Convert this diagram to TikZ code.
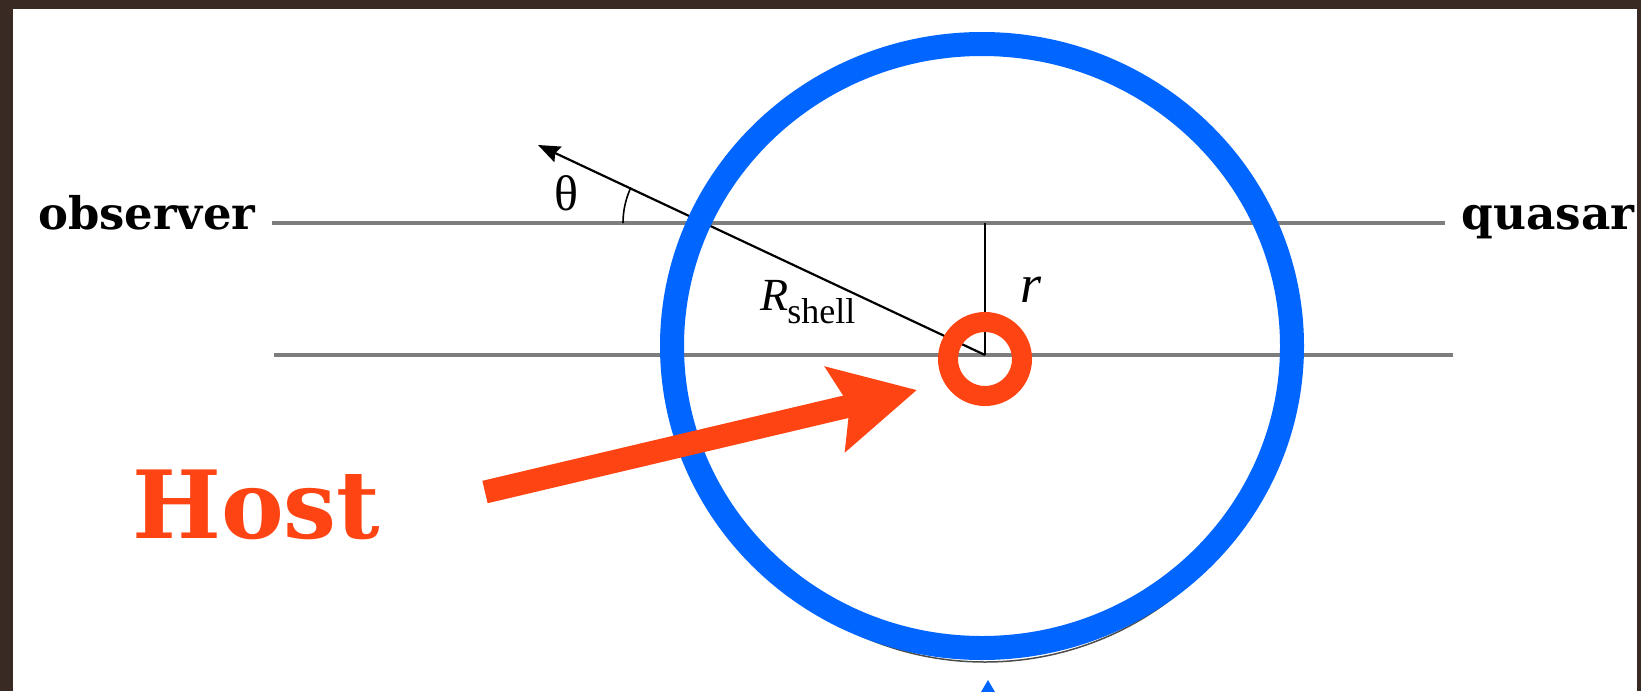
\documentclass[tikz,border=0pt]{standalone}
\usepackage{fontspec}
\usepackage{graphicx}
\usetikzlibrary{arrows.meta}
\newfontfamily\labfont{DejaVu Serif}
\newfontfamily\tnr{Liberation Serif}
\definecolor{frame}{RGB}{58,42,36}
\definecolor{shellblue}{RGB}{0,102,255}
\definecolor{hostred}{RGB}{255,68,20}
\definecolor{sightgray}{RGB}{125,125,125}
\tikzset{
  sight/.style={draw=sightgray, line width=3.5pt},
  thinblack/.style={draw=black, line width=2.2pt},
  sidelabel/.style={inner sep=0pt, font=\labfont\bfseries},
  mathlab/.style={inner sep=0pt},
}
\begin{document}
\begin{tikzpicture}[x=1pt,y=-1pt]
\fill[frame] (0,0) rectangle (1641,691);
\fill[white] (13,9) rectangle (1637,691);
\useasboundingbox (0,0) rectangle (1641,691);

\coordinate (obsL) at (272,223);
\coordinate (obsR) at (1445,223);
\coordinate (lowL) at (274,355);
\coordinate (lowR) at (1453,355);
\coordinate (C) at (985,355);
\coordinate (top) at (985,223);
\coordinate (dir) at (538,145);
\coordinate (X) at (707,223);
\coordinate (hosttail) at (485,492);
\coordinate (hosttip) at (917,390);

\draw[sight] (obsL) -- (obsR);
\draw[sight] (lowL) -- (lowR);
\draw[gray!60!black, line width=1.5pt] (C) circle[radius=307pt];
\draw[thinblack] (top) -- (C);
\draw[thinblack, -{Stealth[length=22pt,width=17pt,inset=3pt]}] (C) -- (dir);
\draw[black, line width=1.6pt] ([xshift=-84pt]X) arc[start angle=180, end angle=155.2, radius=84pt];

% hand-drawn rings
\draw[shellblue, line width=24pt] (982,346) ellipse[x radius=310pt, y radius=302pt];
\draw[hostred, line width=20pt] (985,359) circle[radius=37pt];
\draw[hostred, line width=23pt, -{Stealth[length=83pt,width=85pt,inset=14pt]}] (hosttail) -- (hosttip);
\fill[shellblue] (988,680) -- (981,692) -- (995,692) -- cycle;

% labels
\node[sidelabel, anchor=base west] (observer) at (38,229) {\resizebox{217pt}{!}{observer}};
\node[sidelabel, anchor=base east] (quasar) at (1635,229) {\resizebox{173pt}{!}{quasar}};
\node[sidelabel, anchor=base west, text=hostred] (host) at (132,538) {\resizebox{248pt}{!}{Host}};
\node[mathlab, font=\tnr\fontsize{50}{50}\selectfont] (theta) at (566,193) {θ};
\node[mathlab, anchor=base west, font=\tnr\fontsize{46}{46}\selectfont] (Rlab) at (760,310)
  {\itshape R\upshape\kern-1pt\raisebox{-13pt}{\fontsize{36}{36}\selectfont shell}};
\node[mathlab, anchor=base west, font=\tnr\itshape\fontsize{54}{54}\selectfont] (rlab) at (1020,302) {r};
\end{tikzpicture}
\end{document}
